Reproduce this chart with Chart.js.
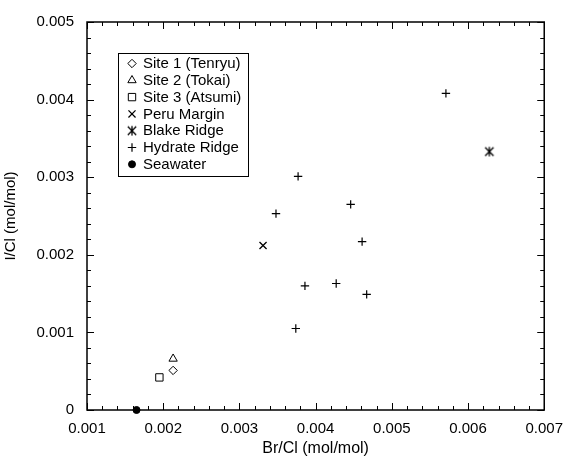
<!DOCTYPE html>
<html>
<head>
<meta charset="utf-8">
<script src="https://cdn.jsdelivr.net/npm/chart.js@4/dist/chart.umd.min.js"></script>
<style>
html,body{margin:0;padding:0;background:#fff;}
#wrap{width:573px;height:461px;}
</style>
</head>
<body>
<div id="wrap"><canvas id="c" width="573" height="461"></canvas></div>
<script>
// ---- data ----
const seriesNames = ["Site 1 (Tenryu)", "Site 2 (Tokai)", "Site 3 (Atsumi)", "Peru Margin", "Blake Ridge", "Hydrate Ridge", "Seawater"];
const site1X = [0.00213];          const site1Y = [0.00051];
const site2X = [0.00213];          const site2Y = [0.00066];
const site3X = [0.00195];          const site3Y = [0.00042];
const peruX = [0.00331];           const peruY = [0.00212];
const blakeX = [0.00628];          const blakeY = [0.00333];
const hydrateX = [0.00571, 0.00377, 0.00446, 0.00348, 0.00461, 0.00386, 0.00427, 0.00467, 0.00374];
const hydrateY = [0.00408, 0.00301, 0.00265, 0.00253, 0.00217, 0.00160, 0.00163, 0.00149, 0.00105];
const seawaterX = [0.00165];       const seawaterY = [0];
const xTickLabels = ["0.001", "0.002", "0.003", "0.004", "0.005", "0.006", "0.007"];
const yTickLabels = ["0", "0.001", "0.002", "0.003", "0.004", "0.005"];

const FONT = "'Liberation Sans', Arial, Helvetica, sans-serif";

function pts(xs, ys) { return xs.map((x, i) => ({ x: x, y: ys[i] })); }

// asterisk marker (× with vertical bar) for Blake Ridge
function asteriskCanvas() {
  const s = 12, c = document.createElement('canvas');
  c.width = s; c.height = s;
  const g = c.getContext('2d');
  g.strokeStyle = '#000'; g.lineWidth = 1.3;
  const m = s / 2, r = 4.2;
  g.beginPath();
  g.moveTo(m - r, m - r); g.lineTo(m + r, m + r);
  g.moveTo(m + r, m - r); g.lineTo(m - r, m + r);
  g.moveTo(m, m - r - 0.5); g.lineTo(m, m + r + 0.5);
  g.stroke();
  return c;
}
const asterisk = asteriskCanvas();

const base = { backgroundColor: 'rgba(255,255,255,0)', borderColor: '#000', borderWidth: 1, showLine: false, clip: false };
const datasets = [
  Object.assign({}, base, { label: seriesNames[0], data: pts(site1X, site1Y), pointStyle: 'rectRot', pointRadius: 4.2 }),
  Object.assign({}, base, { label: seriesNames[1], data: pts(site2X, site2Y), pointStyle: 'triangle', pointRadius: 4.8 }),
  Object.assign({}, base, { label: seriesNames[2], data: pts(site3X, site3Y), pointStyle: 'rect', pointRadius: 5.2 }),
  Object.assign({}, base, { label: seriesNames[3], data: pts(peruX, peruY), pointStyle: 'crossRot', pointRadius: 5, borderWidth: 1.3 }),
  Object.assign({}, base, { label: seriesNames[4], data: pts(blakeX, blakeY), pointStyle: asterisk, pointRadius: 5 }),
  Object.assign({}, base, { label: seriesNames[5], data: pts(hydrateX, hydrateY), pointStyle: 'cross', pointRadius: 4.2, borderWidth: 1.2 }),
  Object.assign({}, base, { label: seriesNames[6], data: pts(seawaterX, seawaterY), pointStyle: 'circle', pointRadius: 3.5, backgroundColor: '#000' })
];

// frame + inward ticks + legend box
const framePlugin = {
  id: 'frame',
  afterDraw(chart) {
    const ctx = chart.ctx, a = chart.chartArea;
    const xs = chart.scales.x, ys = chart.scales.y;
    ctx.save();
    ctx.strokeStyle = '#000';
    ctx.lineWidth = 1.5;
    ctx.strokeRect(a.left, a.top, a.right - a.left, a.bottom - a.top);
    ctx.lineWidth = 1;
    ctx.beginPath();
    const step = 0.0002;
    for (let i = 0; i <= 30; i++) {
      const v = xs.min + i * step;
      const px = Math.round(xs.getPixelForValue(v)) + 0.5;
      const len = (i % 5 === 0) ? 7 : 4;
      ctx.moveTo(px, a.bottom); ctx.lineTo(px, a.bottom - len);
      ctx.moveTo(px, a.top); ctx.lineTo(px, a.top + len);
    }
    for (let i = 0; i <= 25; i++) {
      const v = ys.min + i * step;
      const py = Math.round(ys.getPixelForValue(v)) + 0.5;
      const len = (i % 5 === 0) ? 7 : 4;
      ctx.moveTo(a.left, py); ctx.lineTo(a.left + len, py);
      ctx.moveTo(a.right, py); ctx.lineTo(a.right - len, py);
    }
    ctx.stroke();

    // legend
    const bx = 118.5, by = 53.5, bw = 130, bh = 123;
    ctx.fillStyle = '#fff';
    ctx.fillRect(bx, by, bw, bh);
    ctx.lineWidth = 1;
    ctx.strokeStyle = '#000';
    ctx.strokeRect(bx, by, bw, bh);
    ctx.font = '15px ' + FONT;
    ctx.textBaseline = 'middle';
    ctx.textAlign = 'left';
    chart.data.datasets.forEach((ds, i) => {
      const y = 63.5 + i * 16.8;
      ctx.strokeStyle = '#000';
      ctx.fillStyle = ds.backgroundColor;
      ctx.lineWidth = ds.borderWidth;
      let r = ds.pointRadius;
      Chart.helpers.drawPoint(ctx, { pointStyle: ds.pointStyle, radius: r, borderWidth: ds.borderWidth, rotation: 0 }, 132, y);
      ctx.fillStyle = '#000';
      ctx.fillText(ds.label, 143, y + 0.5);
    });
    ctx.restore();
  }
};

new Chart(document.getElementById('c'), {
  type: 'scatter',
  data: { datasets: datasets },
  plugins: [framePlugin],
  options: {
    responsive: false,
    animation: false,
    devicePixelRatio: 1,
    layout: { padding: { left: 0, top: 19, right: 22, bottom: 0 } },
    plugins: { legend: { display: false }, tooltip: { enabled: false } },
    scales: {
      x: {
        type: 'linear', min: 0.001, max: 0.007,
        grid: { display: false, drawTicks: false },
        border: { display: false },
        ticks: {
          stepSize: 0.001, padding: 10, color: '#000',
          font: { family: FONT, size: 15 },
          callback: (v) => { const i = Math.round((v - 0.001) / 0.001); return xTickLabels[i]; }
        },
        title: { display: true, text: 'Br/Cl (mol/mol)', color: '#000', font: { family: FONT, size: 16 }, padding: { top: 0, bottom: 3 } },
        afterFit: (s) => { s.height = 51; }
      },
      y: {
        type: 'linear', min: 0, max: 0.005,
        grid: { display: false, drawTicks: false },
        border: { display: false },
        ticks: {
          stepSize: 0.001, padding: 13, color: '#000',
          font: { family: FONT, size: 15 },
          callback: (v) => { const i = Math.round(v / 0.001); return yTickLabels[i]; }
        },
        title: { display: true, text: 'I/Cl (mol/mol)', color: '#000', font: { family: FONT, size: 15 }, padding: { top: 2, bottom: 0 } },
        afterFit: (s) => { s.width = 87; }
      }
    }
  }
});
</script>
</body>
</html>
